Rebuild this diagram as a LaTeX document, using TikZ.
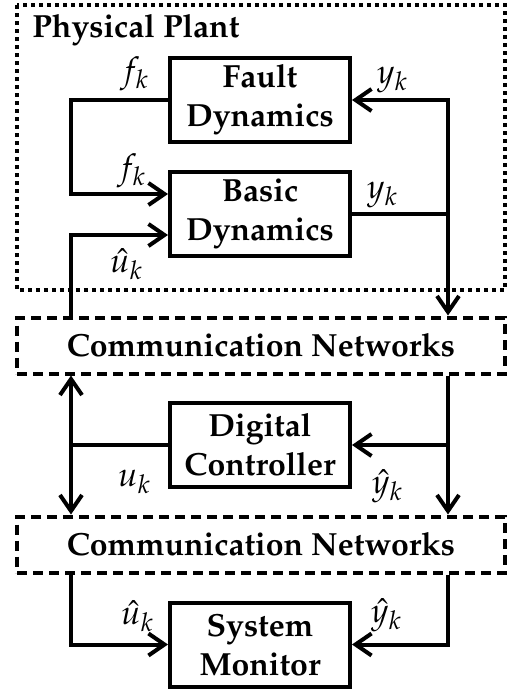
\documentclass[tikz,border=0pt]{standalone}
\usepackage[T1]{fontenc}
\usepackage{mathpazo}
\usepackage{amsmath,amssymb}
\usepackage{tikz}
\usetikzlibrary{arrows.meta,calc}

\begin{document}
\begin{tikzpicture}[x=0.5pt,y=-0.5pt,>={Straight Barb[length=8pt,width=11pt]},
  every node/.style={font=\fontsize{16}{19.5}\selectfont\bfseries},
  wire/.style={line width=2pt},
  block/.style={draw,line width=2pt,align=center,minimum width=90pt,minimum height=42pt,inner sep=0pt},
  netbox/.style={draw,line width=2pt,dash pattern=on 5pt off 3pt,minimum width=244pt,minimum height=28pt,inner sep=0pt},
  sig/.style={font=\fontsize{17}{19.5}\selectfont,inner sep=1.5pt}]
\useasboundingbox (0,0) rectangle (508,692);
% plant
\draw[line width=2pt,dash pattern=on 2pt off 2pt] (17,5) rectangle (505,290);
\node[anchor=west,inner sep=0pt] (plantlbl) at (32,30) {Physical Plant};
\node[block] (fault) at (260,100) {Fault\\Dynamics};
\node[block] (basic) at (260,213.5) {Basic\\Dynamics};
% networks and controller
\node[netbox] (net1) at (261,345.5) {Communication Networks};
\node[block] (ctrl) at (260,445) {Digital\\Controller};
\node[netbox] (net2) at (261,544.5) {Communication Networks};
\node[block] (mon) at (260,644.5) {System\\Monitor};
\coordinate (lx) at (71,0);
\coordinate (rx) at (448,0);
% plant loop
\draw[wire,->] (fault.west) node[sig,above left,xshift=-7pt,yshift=2pt] {$f_k$} -- (fault.west -| lx) |- ([yshift=9.75pt]basic.west) node[sig,above left,xshift=-8.5pt,yshift=0.5pt] {$f_k$};
\draw[wire,<->] (fault.east) node[sig,above right,xshift=10pt,yshift=1pt] {$y_k$} -- (fault.east -| rx) -- (net1.north -| rx);
\draw[wire] (basic.east) node[sig,above right,xshift=5pt,yshift=0.5pt] {$y_k$} -- (basic.east -| rx);
\draw[wire,->] (net1.north -| lx) |- ([yshift=-10.75pt]basic.west) node[sig,below left,xshift=-10pt,yshift=-4.5pt] {$\hat{u}_k$};
% controller
\draw[wire,<->] (net1.south -| lx) -- (net2.north -| lx);
\draw[wire] (ctrl.west) node[sig,below left,xshift=-6pt,yshift=-10pt] {$u_k$} -- (ctrl.west -| lx);
\draw[wire,->] (net1.south -| rx) -- (net2.north -| rx);
\draw[wire,->] (ctrl.east -| rx) -- (ctrl.east) node[sig,below right,xshift=7.5pt,yshift=-10pt] {$\hat{y}_k$};
% monitor
\draw[wire,->] (net2.south -| lx) |- (mon.west) node[sig,above left,xshift=-4.5pt,yshift=4pt] {$\hat{u}_k$};
\draw[wire,->] (net2.south -| rx) |- (mon.east) node[sig,above right,xshift=7pt,yshift=4pt] {$\hat{y}_k$};
\end{tikzpicture}
\end{document}
